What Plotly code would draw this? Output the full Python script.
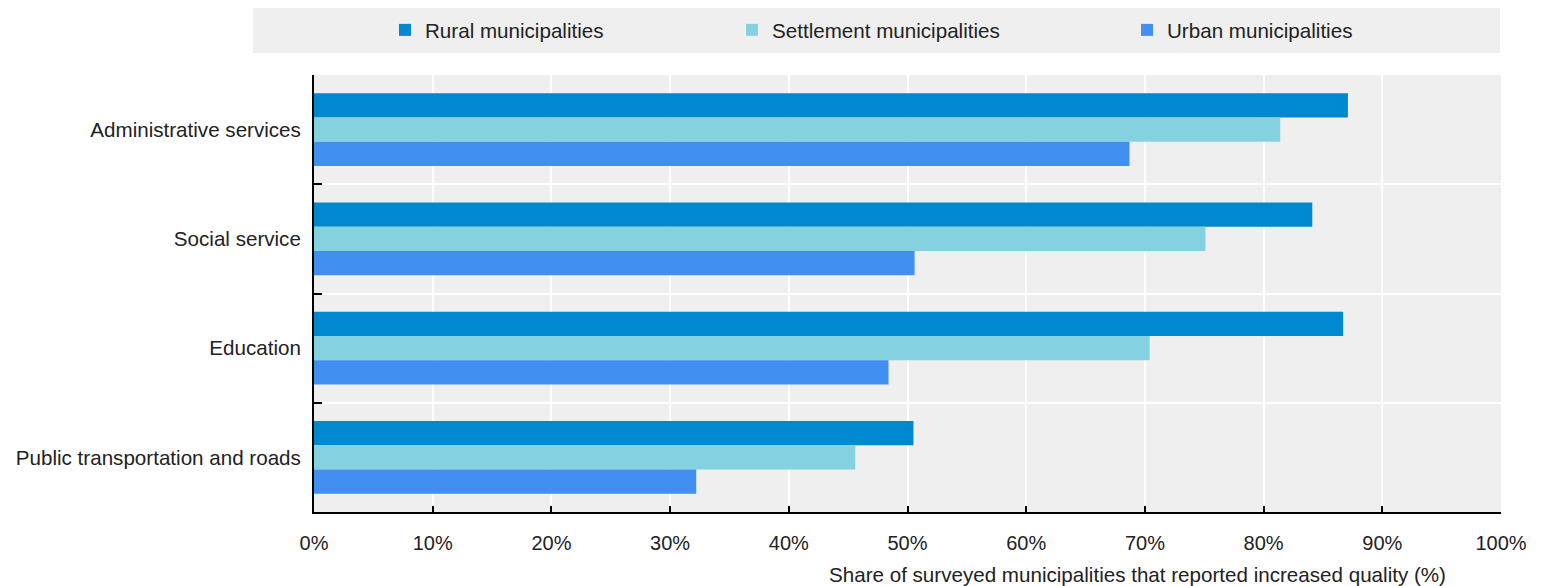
import plotly.graph_objects as go

categories = ["Administrative services", "Social service", "Education", "Public transportation and roads"]
rural = [87.1, 84.1, 86.7, 50.5]
settlement = [81.4, 75.1, 70.4, 45.6]
urban = [68.7, 50.6, 48.4, 32.2]
series_names = ["Rural municipalities", "Settlement municipalities", "Urban municipalities"]
colors = ["#0088ce", "#84d2e0", "#418ff1"]
x_ticks = [0, 10, 20, 30, 40, 50, 60, 70, 80, 90, 100]
x_tick_labels = ["0%", "10%", "20%", "30%", "40%", "50%", "60%", "70%", "80%", "90%", "100%"]

FONT = "Liberation Sans, Arial, sans-serif"
FS = 20.6
W, H = 1542, 586
L, R, T, B = 314, 41, 75, 74
pw, ph = W - L - R, H - T - B

fig = go.Figure()
legends = ["legend", "legend2", "legend3"]
for name, vals, col, lg in zip(series_names, [rural, settlement, urban], colors, legends):
    fig.add_trace(go.Bar(
        y=categories, x=vals, name=name, orientation="h", showlegend=True,
        marker=dict(color=col, line=dict(width=0)), legend=lg,
    ))

def px2x(px):
    return (px - L) / pw

def px2y(py):
    return (H - B - py) / ph

leg_common = dict(orientation="h", bgcolor="rgba(0,0,0,0)", font=dict(family=FONT, size=FS, color="#222"),
                  xanchor="left", yanchor="middle", y=px2y(30), visible=True)
fig.update_layout(
    width=W, height=H,
    showlegend=True,
    margin=dict(l=L, r=R, t=T, b=B, pad=0, autoexpand=False),
    paper_bgcolor="white", plot_bgcolor="#efefef",
    barmode="group", bargap=0.336, bargroupgap=0,
    font=dict(family=FONT, size=FS, color="#222"),
    legend=dict(x=px2x(385), **leg_common),
    legend2=dict(x=px2x(732), **leg_common),
    legend3=dict(x=px2x(1127), **leg_common),
    xaxis=dict(range=[0, 100], tickmode="array", tickvals=x_ticks, ticktext=x_tick_labels, showgrid=True,
               gridcolor="white", gridwidth=2,
               showline=True, linecolor="black", linewidth=2, ticks="inside", ticklen=6, tickcolor="black",
               tickwidth=2, zeroline=False, ticklabelstandoff=12, tickfont=dict(size=20)),
    yaxis=dict(type="category", categoryarray=categories, range=[3.5, -0.5], tickson="boundaries",
               showgrid=True, gridcolor="white", gridwidth=2, showline=True, linecolor="black", linewidth=2,
               ticks="inside", ticklen=8, tickcolor="black", tickwidth=2, ticklabelstandoff=7,
               tickfont=dict(size=FS)),
    shapes=[dict(type="rect", xref="paper", yref="paper", x0=px2x(253), x1=px2x(1500), y0=px2y(53), y1=px2y(8),
                 fillcolor="#efefef", line=dict(width=0), layer="below")],
    annotations=[dict(text="Share of surveyed municipalities that reported increased quality (%)", xref="paper",
                      yref="paper", x=px2x(1448), y=px2y(574), xanchor="right", yanchor="middle",
                      showarrow=False, font=dict(family=FONT, size=FS, color="#222"))],
)

fig.write_html("out.html")
